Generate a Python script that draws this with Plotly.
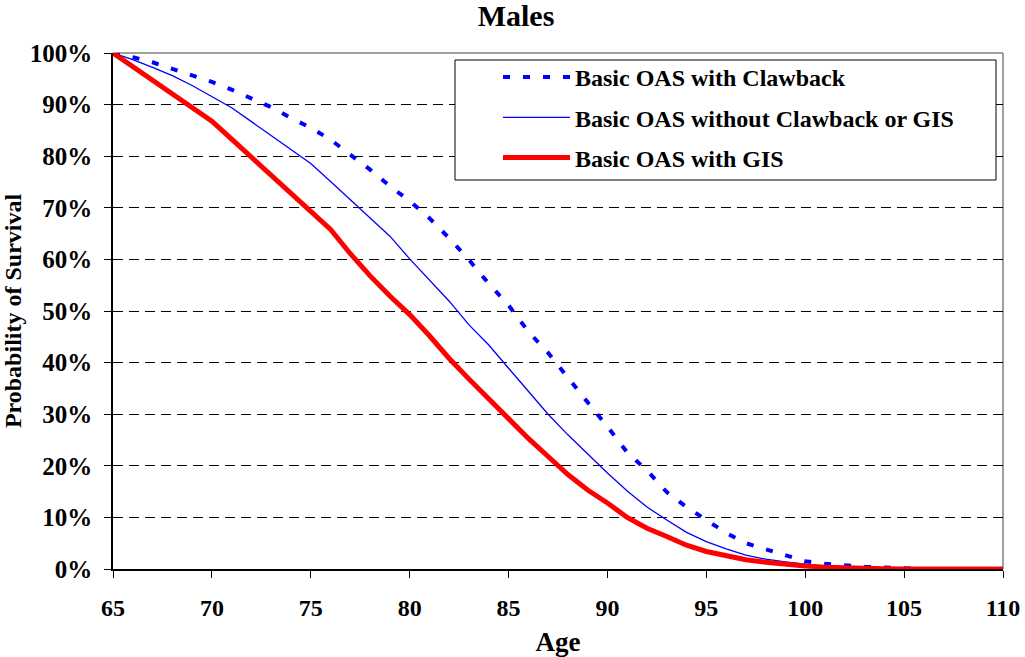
import plotly.graph_objects as go

ages = list(range(65, 111))

clawback = [100, 99.2, 98.2, 97.0, 95.7, 94.4, 92.9, 91.2, 89.5, 87.4,
            85.5, 83.2, 80.3, 77.4, 74.2, 71.3, 68.0, 64.1, 59.9, 55.3,
            51.1, 46.0, 41.9, 37.0, 32.3, 27.6, 22.6, 19.1, 14.9, 12.0,
            9.6, 7.0, 5.0, 3.8, 2.5, 1.5, 1.0, 0.7, 0.45, 0.3,
            0.1, 0, 0, 0, 0, 0]

no_clawback_gis = [100, 98.7, 97.2, 95.6, 93.7, 91.6, 89.4, 86.7, 84.0, 81.3,
                   78.6, 75.1, 71.6, 68.0, 64.5, 60.1, 56.1, 51.9, 47.3, 43.4,
                   38.9, 34.5, 30.0, 26.0, 22.2, 18.6, 15.1, 12.0, 9.5, 7.1,
                   5.3, 3.9, 2.7, 1.9, 1.4, 0.9, 0.5, 0.3, 0.15, 0.05,
                   0, 0, 0, 0, 0, 0]

with_gis = [100, 97.4, 94.8, 92.2, 89.5, 86.8, 83.3, 79.8, 76.4, 72.9,
            69.2, 65.8, 61.1, 56.8, 52.9, 49.3, 45.2, 40.8, 36.8, 33.0,
            29.0, 25.3, 21.8, 18.3, 15.3, 12.8, 10.0, 7.9, 6.3, 4.6,
            3.4, 2.5, 1.8, 1.3, 0.9, 0.6, 0.35, 0.2, 0.1, 0.05,
            0, 0, 0, 0, 0, 0]

series_names = ["Basic OAS with Clawback",
                "Basic OAS without Clawback or GIS",
                "Basic OAS with GIS"]

x_ticks = [65, 70, 75, 80, 85, 90, 95, 100, 105, 110]
y_ticks = [0, 10, 20, 30, 40, 50, 60, 70, 80, 90, 100]

FONT = "Liberation Serif, Times New Roman, serif"

# body margin removed in the page -> figure fills the 1025x657 window
W, H = 1025, 657
L, R, T, B = 113, 22, 53, 88
PW, PH = W - L - R, H - T - B   # plot area 890 x 516


def px_x(p):  # page x -> paper
    return (p - L) / PW


def px_y(p):  # page y -> paper
    return 1 - (p - T) / PH


fig = go.Figure()
fig.add_trace(go.Scatter(x=ages, y=clawback, mode="lines", name=f"<b>{series_names[0]}</b>",
                         legendgroup="a",
                         line=dict(color="#0000FF", width=4, dash="7px,13px")))
fig.add_trace(go.Scatter(x=ages, y=no_clawback_gis, mode="lines", name=f"<b>{series_names[1]}</b>",
                         legendgroup="b",
                         line=dict(color="#0000FF", width=1.3)))
fig.add_trace(go.Scatter(x=ages, y=with_gis, mode="lines", name=f"<b>{series_names[2]}</b>",
                         legendgroup="c",
                         line=dict(color="#FF0000", width=5)))

# gray top/right frame
fig.add_shape(type="line", xref="paper", yref="paper", x0=0, x1=1, y0=1, y1=1,
              line=dict(color="#808080", width=1.5), layer="between")
fig.add_shape(type="line", xref="paper", yref="paper", x0=1, x1=1, y0=0, y1=1,
              line=dict(color="#808080", width=1.5), layer="between")
# legend frame
fig.add_shape(type="rect", xref="paper", yref="paper",
              x0=px_x(455), x1=px_x(996), y0=px_y(180), y1=px_y(60),
              line=dict(color="black", width=1), fillcolor="white", layer="above")

fig.update_layout(
    width=W, height=H, autosize=False,
    margin=dict(l=L, r=R, t=T, b=B, autoexpand=False),
    paper_bgcolor="white", plot_bgcolor="white",
    font=dict(family=FONT, color="black", size=24),
    title=dict(text="<b>Males</b>", x=516 / W, xanchor="center",
               y=1 - 5 / H, yanchor="top",
               font=dict(family=FONT, size=30, color="black")),
    showlegend=True,
    legend=dict(x=px_x(498), y=px_y(55), xanchor="left", yanchor="top",
                borderwidth=0, bgcolor="rgba(0,0,0,0)",
                font=dict(family=FONT, size=24, color="black"),
                itemwidth=67, tracegroupgap=6, traceorder="grouped"),
    xaxis=dict(range=[65, 110], tickvals=x_ticks, ticktext=[f"<b>{v}</b>" for v in x_ticks],
               showgrid=False, zeroline=False, automargin=False,
               showline=True, linecolor="black", linewidth=1.5,
               ticks="outside", ticklen=7, tickcolor="black", tickwidth=1,
               ticklabelstandoff=9, ticklabeloverflow="allow",
               tickfont=dict(family=FONT, size=24, color="black"),
               title=dict(text="<b>Age</b>", font=dict(family=FONT, size=27, color="black"),
                          standoff=20)),
    yaxis=dict(range=[0, 100], tickvals=y_ticks, ticktext=[f"<b>{v}%</b>" for v in y_ticks],
               showgrid=True, gridcolor="black", gridwidth=1, griddash="10px,6px",
               zeroline=False, automargin=False,
               showline=True, linecolor="black", linewidth=1.5,
               ticks="outside", ticklen=7, tickcolor="black", tickwidth=1,
               ticklabelstandoff=7, ticklabeloverflow="allow",
               tickfont=dict(family=FONT, size=25, color="black"),
               title=dict(text="<b>Probability of Survival</b>",
                          font=dict(family=FONT, size=24, color="black"), standoff=6)),
)

fig.write_html("out.html",
               config={"displayModeBar": False},
               post_script="document.body.style.margin='0';"
                           "document.body.style.overflow='hidden';")
